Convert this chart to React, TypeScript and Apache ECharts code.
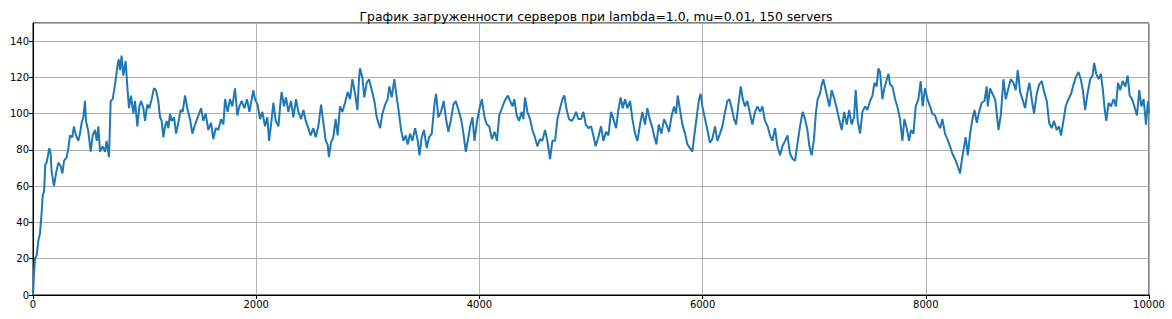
import React, { useEffect, useRef } from "react";
import * as echarts from "echarts";

const TITLE = "График загруженности серверов при lambda=1.0, mu=0.01, 150 servers";
const X_MIN = 0;
const X_MAX = 10000;
const X_STEP = 2000;
const Y_MIN = 0;
const Y_MAX = 150;
const Y_STEP = 20;

// [time, busy servers], segment by segment
const loadA: [number, number][] = [
  [0, 0], [9, 12], [18, 20], [33, 22], [48, 30], [63, 34], [78, 46], [87, 55], [99, 57], [110, 72],
  [122, 73], [137, 78], [146, 81], [158, 78], [167, 68], [188, 60], [206, 67], [227, 73], [248, 71], [263, 67],
  [278, 74], [302, 76], [317, 81], [332, 88], [352, 87], [367, 93], [385, 88], [406, 85], [421, 89], [436, 95],
  [451, 98], [466, 107], [475, 96], [496, 90], [517, 79], [535, 88], [556, 91], [571, 85], [586, 93], [600, 79],
  [624, 82], [645, 79], [660, 85], [681, 76], [696, 107], [714, 108], [735, 116], [756, 126], [768, 130], [780, 124],
  [794, 132], [809, 121], [830, 129], [845, 115], [860, 103], [878, 110], [899, 100], [914, 107], [935, 93], [953, 104],
  [968, 107], [989, 103], [1004, 96], [1024, 105], [1042, 103], [1063, 108], [1084, 114], [1102, 113], [1123, 107], [1138, 98],
  [1153, 96], [1168, 87], [1183, 93], [1198, 96], [1213, 92], [1228, 100], [1243, 96], [1264, 98], [1282, 89], [1302, 95],
  [1323, 102], [1341, 101],
];

const loadB: [number, number][] = [
  [1362, 110], [1386, 102], [1407, 97], [1428, 89], [1452, 94], [1476, 98], [1506, 103], [1526, 96], [1547, 100], [1571, 91],
  [1595, 95], [1616, 86], [1637, 92], [1661, 91], [1685, 97], [1706, 94], [1721, 108], [1744, 101], [1765, 108], [1786, 104],
  [1810, 114], [1831, 99], [1849, 104], [1870, 107], [1894, 103], [1918, 108], [1939, 101], [1960, 108], [1974, 113], [1989, 108],
  [2013, 105], [2034, 97], [2055, 101], [2079, 93], [2100, 98], [2115, 85], [2133, 94], [2154, 106], [2175, 96], [2199, 93],
  [2219, 107], [2228, 112], [2249, 104], [2267, 109], [2288, 101], [2312, 107], [2333, 98], [2357, 108], [2378, 101], [2402, 97],
  [2423, 102], [2444, 96], [2467, 92], [2488, 88], [2512, 92], [2533, 87], [2557, 93], [2581, 105], [2602, 95], [2623, 85],
  [2640, 83], [2652, 76], [2670, 84], [2691, 87], [2712, 97], [2730, 88], [2751, 104], [2772, 101], [2796, 106],
];

const loadC: [number, number][] = [
  [2820, 112], [2841, 108], [2862, 119], [2886, 111], [2907, 102], [2921, 119], [2930, 125], [2951, 120], [2969, 109], [2990, 117],
  [3011, 119], [3035, 113], [3059, 107], [3080, 98], [3110, 92], [3131, 100], [3155, 105], [3178, 108], [3193, 115], [3214, 109],
  [3238, 119], [3259, 109], [3280, 100], [3298, 91], [3319, 85], [3340, 88], [3358, 83], [3379, 89], [3400, 85], [3424, 92],
  [3448, 85], [3463, 77], [3483, 87], [3504, 91], [3528, 81], [3549, 87], [3573, 89], [3597, 105], [3612, 111], [3632, 98],
  [3656, 101], [3680, 107], [3701, 97], [3722, 90], [3746, 97], [3767, 105], [3788, 107], [3812, 102], [3836, 97], [3857, 89],
  [3878, 79], [3896, 85], [3917, 93], [3938, 98], [3956, 85], [3977, 95], [3998, 102], [4022, 108], [4046, 98], [4067, 94],
  [4088, 93], [4112, 86], [4136, 90], [4157, 85], [4178, 99], [4202, 103], [4226, 107],
];

const loadD: [number, number][] = [
  [4254, 110], [4275, 107], [4296, 104], [4313, 108], [4334, 99], [4355, 96], [4379, 101], [4394, 97], [4409, 109], [4430, 101],
  [4454, 97], [4475, 91], [4498, 87], [4519, 82], [4543, 86], [4564, 85], [4588, 91], [4609, 85], [4633, 75], [4654, 85],
  [4678, 85], [4699, 97], [4723, 103], [4744, 108], [4761, 110], [4782, 102], [4803, 97], [4827, 96], [4848, 98], [4866, 101],
  [4887, 97], [4911, 97], [4932, 101], [4953, 94], [4977, 92], [5001, 93], [5021, 88], [5042, 82], [5066, 87], [5090, 93],
  [5111, 85], [5135, 90], [5156, 88], [5180, 101], [5201, 97], [5225, 92], [5245, 102], [5266, 109], [5284, 103], [5305, 108],
  [5326, 103], [5350, 107], [5371, 97], [5395, 89], [5416, 85], [5439, 94], [5460, 101], [5484, 94], [5505, 103], [5526, 97],
  [5547, 93], [5565, 88], [5586, 83], [5607, 94], [5631, 89], [5655, 97], [5676, 94],
];

const loadE: [number, number][] = [
  [5699, 90], [5723, 99], [5744, 104], [5762, 100], [5777, 110], [5798, 102], [5819, 94], [5843, 89], [5864, 83], [5887, 81],
  [5908, 79], [5932, 91], [5953, 101], [5968, 108], [5983, 111], [5998, 104], [6022, 97], [6043, 91], [6066, 84], [6087, 86],
  [6111, 93], [6132, 85], [6156, 89], [6177, 93], [6201, 101], [6222, 107], [6240, 108], [6261, 103], [6282, 97], [6300, 94],
  [6321, 105], [6342, 115], [6360, 108], [6380, 104], [6401, 107], [6425, 100], [6446, 94], [6470, 101], [6491, 104], [6515, 101],
  [6536, 104], [6559, 96], [6583, 93], [6604, 88], [6625, 85], [6649, 92], [6670, 82], [6694, 77], [6715, 82], [6739, 85],
  [6760, 88], [6783, 78], [6807, 75], [6828, 74], [6849, 83], [6873, 93], [6897, 101], [6918, 97], [6939, 91], [6957, 82],
  [6977, 77], [6998, 86], [7016, 101], [7031, 108], [7052, 111], [7067, 116], [7082, 119], [7103, 113],
];

const loadF: [number, number][] = [
  [7136, 104], [7157, 113], [7181, 108], [7202, 103], [7223, 97], [7247, 91], [7268, 101], [7292, 94], [7313, 102], [7336, 94],
  [7357, 98], [7372, 113], [7390, 96], [7411, 89], [7432, 101], [7456, 104], [7477, 102], [7501, 107], [7522, 110], [7540, 117],
  [7560, 115], [7575, 125], [7590, 123], [7611, 108], [7629, 114], [7650, 119], [7665, 122], [7680, 116], [7701, 115], [7725, 108],
  [7749, 103], [7769, 97], [7790, 85], [7808, 97], [7829, 92], [7850, 85], [7868, 91], [7889, 89], [7910, 104], [7934, 108],
  [7954, 118], [7972, 104], [7993, 114], [8014, 108], [8038, 104], [8059, 100], [8083, 99], [8104, 95], [8128, 92], [8149, 97],
  [8172, 89], [8193, 86], [8217, 82], [8238, 78], [8262, 75], [8286, 71], [8307, 67], [8322, 74], [8343, 82], [8358, 87],
  [8376, 77], [8397, 89], [8418, 97], [8436, 102], [8457, 95], [8478, 101], [8501, 106], [8525, 107], [8546, 115],
];

const loadG: [number, number][] = [
  [8555, 104], [8576, 114], [8597, 111], [8621, 108], [8636, 100], [8651, 91], [8672, 99], [8696, 119], [8716, 108], [8740, 114],
  [8761, 119], [8785, 117], [8806, 113], [8824, 124], [8845, 112], [8866, 108], [8890, 103], [8911, 112], [8929, 117], [8949, 108],
  [8970, 100], [8994, 111], [9015, 116], [9039, 118], [9060, 112], [9084, 107], [9105, 95], [9128, 92], [9149, 96], [9173, 91],
  [9194, 93], [9212, 88], [9233, 96], [9254, 104], [9278, 108], [9302, 111], [9323, 116], [9344, 120], [9368, 123], [9389, 119],
  [9407, 113], [9428, 102], [9449, 111], [9473, 119], [9494, 121], [9509, 128], [9527, 122], [9548, 119], [9569, 122], [9587, 113],
  [9602, 103], [9617, 96], [9638, 106], [9659, 104], [9683, 108], [9704, 104], [9722, 117], [9743, 113], [9764, 118], [9788, 115],
  [9809, 121], [9827, 110], [9848, 108], [9869, 104], [9892, 99], [9913, 113], [9931, 104], [9952, 108], [9973, 94], [9991, 107],
  [10000, 100],
];

const FONT = "DejaVu Sans";

export default function App() {
  const ref = useRef<HTMLDivElement>(null);
  useEffect(() => {
    if (!ref.current) return;
    const chart = echarts.init(ref.current, null, { renderer: "svg" });
    const data = [...loadA, ...loadB, ...loadC, ...loadD, ...loadE, ...loadF, ...loadG];
    chart.setOption({
      animation: false,
      backgroundColor: "#ffffff",
      title: {
        text: TITLE,
        left: 591,
        top: 5,
        textAlign: "center",
        textStyle: { fontFamily: FONT, fontSize: 12.4, fontWeight: "normal", color: "#000" },
      },
      grid: {
        left: 33,
        right: 23,
        top: 23,
        bottom: 24,
        show: true,
        borderColor: "#000",
        borderWidth: 1,
        backgroundColor: "transparent",
      },
      xAxis: {
        type: "value",
        min: X_MIN,
        max: X_MAX,
        interval: X_STEP,
        axisLine: { show: true, lineStyle: { color: "#000", width: 1 } },
        axisTick: { show: true, length: 4, lineStyle: { color: "#000" } },
        axisLabel: {
          color: "#000",
          fontFamily: FONT,
          fontSize: 10,
          margin: 4,
          formatter: (v: number) => String(v),
        },
        splitLine: { show: true, lineStyle: { color: "#b0b0b0", width: 1 } },
      },
      yAxis: {
        type: "value",
        min: Y_MIN,
        max: Y_MAX,
        interval: Y_STEP,
        axisLine: { show: true, lineStyle: { color: "#000", width: 1 } },
        axisTick: { show: true, length: 4, lineStyle: { color: "#000" } },
        axisLabel: {
          color: "#000",
          fontFamily: FONT,
          fontSize: 10,
          margin: 4,
          showMaxLabel: false,
          formatter: (v: number) => String(v),
        },
        splitLine: { show: true, lineStyle: { color: "#b0b0b0", width: 1 } },
      },
      series: [
        {
          type: "line",
          data,
          symbol: "none",
          showSymbol: false,
          lineStyle: { color: "#1f77b4", width: 2 },
          itemStyle: { color: "#1f77b4" },
          clip: true,
        },
      ],
    });
    return () => chart.dispose();
  }, []);
  return (
    <div
      ref={ref}
      style={{ position: "absolute", left: 0, top: 0, width: 1172, height: 319, background: "#fff" }}
    />
  );
}
